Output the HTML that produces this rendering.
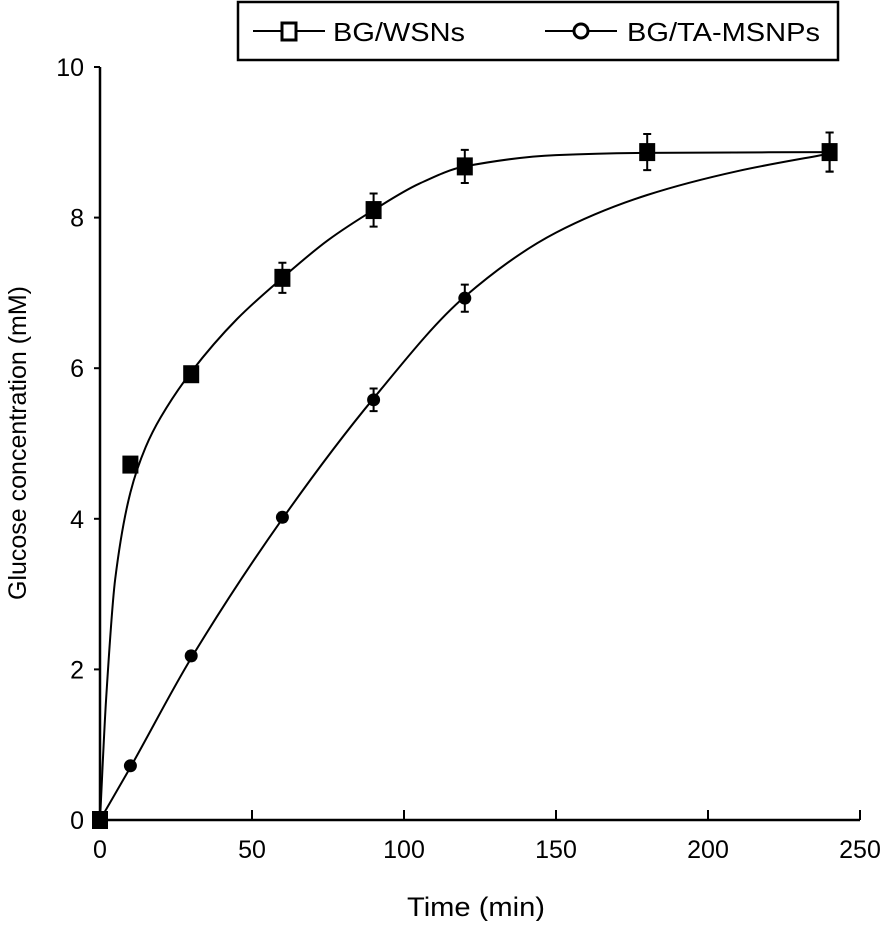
<!DOCTYPE html>
<html><head><meta charset="utf-8"><style>
body{margin:0;background:#fff}
svg text{font-family:"Liberation Sans",Arial,sans-serif;fill:#000}
</style></head><body>
<svg id="chart" width="882" height="921" viewBox="0 0 882 921" xmlns="http://www.w3.org/2000/svg">
<g id="axes"></g>
<g id="series"></g>
<g>
<rect x="238" y="2" width="600" height="58" fill="#fff" stroke="#000" stroke-width="2.5"/>
<g>
<line x1="253" y1="31" x2="325" y2="31" stroke="#000" stroke-width="2"/>
<rect x="282" y="23" width="14" height="17" fill="#fff" stroke="#000" stroke-width="3"/>
<text x="333" y="41" font-size="26" textLength="132" lengthAdjust="spacingAndGlyphs">BG/WSNs</text>
</g>
<g>
<line x1="545" y1="31" x2="617" y2="31" stroke="#000" stroke-width="2"/>
<circle cx="581" cy="31" r="7" fill="#fff" stroke="#000" stroke-width="3"/>
<text x="627" y="41" font-size="26" textLength="193" lengthAdjust="spacingAndGlyphs">BG/TA-MSNPs</text>
</g>
</g>
<text x="476" y="916" font-size="27" text-anchor="middle" textLength="138" lengthAdjust="spacingAndGlyphs">Time (min)</text>
<text transform="translate(26,443) rotate(-90)" font-size="25" text-anchor="middle">Glucose concentration (mM)</text>
</svg>
<script>
const xTicks=[0,50,100,150,200,250];
const yTicks=[0,2,4,6,8,10];
const wsnTimes=[0,10,30,60,90,120,180,240];
const wsnValues=[0,4.72,5.92,7.2,8.1,8.68,8.87,8.87];
const wsnErrors=[0,0.08,0.1,0.2,0.22,0.22,0.24,0.26];
const wsnFitTimes=[0,2,5,10,15,20,30,45,60,75,90,105,120,150,180,240];
const wsnFitValues=[0,1.6,3.2,4.35,4.95,5.35,5.95,6.65,7.2,7.7,8.1,8.45,8.68,8.83,8.86,8.87];
const taTimes=[0,10,30,60,90,120,240];
const taValues=[0,0.72,2.18,4.02,5.58,6.93,8.87];
const taErrors=[0,0.04,0.06,0.06,0.15,0.18,0.26];
const taFitTimes=[0,10,30,60,90,120,150,180,210,240];
const taFitValues=[0,0.7,2.15,4.0,5.6,6.95,7.8,8.3,8.62,8.85];
const NS='http://www.w3.org/2000/svg';
const X0=100,X1=860,Y0=820,Y1=67;
const sx=v=>X0+(v-0)/(250-0)*(X1-X0);
const sy=v=>Y0-(v-0)/(10-0)*(Y0-Y1);
function mk(tag,attrs,parent){const e=document.createElementNS(NS,tag);for(const k in attrs)e.setAttribute(k,attrs[k]);parent.appendChild(e);return e;}
const ax=document.getElementById('axes');
let l=mk('line',{x1:X0-1,y1:Y0,x2:X1,y2:Y0,stroke:'#000','stroke-width':2.5},ax);


l=mk('line',{x1:X0,y1:Y0,x2:X0,y2:Y1,stroke:'#000','stroke-width':2.5},ax);


xTicks.forEach(t=>{
 const tk=mk('line',{x1:sx(t),y1:Y0,x2:sx(t),y2:Y0-10,stroke:'#000','stroke-width':2},ax);
 
 
 const tx=mk('text',{x:sx(t),y:Y0+38,'font-size':25,'text-anchor':'middle'},ax);tx.textContent=t;
 
 
});
yTicks.forEach(t=>{
 const tk=mk('line',{x1:X0-6,y1:sy(t),x2:X0,y2:sy(t),stroke:'#000','stroke-width':2},ax);
 
 
 const tx=mk('text',{x:X0-16,y:sy(t)+9,'font-size':25,'text-anchor':'end'},ax);tx.textContent=t;
 
 
});
function curve(xs,ys){
 const n=xs.length,d=[],m=[];
 for(let i=0;i<n-1;i++)d.push((ys[i+1]-ys[i])/(xs[i+1]-xs[i]));
 m[0]=d[0];m[n-1]=d[n-2];
 for(let i=1;i<n-1;i++)m[i]=(d[i-1]*d[i]<=0)?0:2/(1/d[i-1]+1/d[i]);
 let p='M'+sx(xs[0])+','+sy(ys[0]);
 for(let i=0;i<n-1;i++){const h=xs[i+1]-xs[i];
  p+=' C'+sx(xs[i]+h/3)+','+sy(ys[i]+m[i]*h/3)+' '+sx(xs[i+1]-h/3)+','+sy(ys[i+1]-m[i+1]*h/3)+' '+sx(xs[i+1])+','+sy(ys[i+1]);}
 return p;
}
const sg=document.getElementById('series');
function series(name,fx,fy,xs,ys,es,shape){
 const g=mk('g',{},sg);
 
 
 const p=mk('path',{d:curve(fx,fy),fill:'none',stroke:'#000','stroke-width':2},g);
 
 
 xs.forEach((x,i)=>{
  const cx=sx(x),cy=sy(ys[i]);
  if(es[i]>0){
   const e=mk('path',{d:`M${cx},${sy(ys[i]+es[i])}V${sy(ys[i]-es[i])}M${cx-4},${sy(ys[i]+es[i])}h8M${cx-4},${sy(ys[i]-es[i])}h8`,stroke:'#000','stroke-width':2,fill:'none'},g);
   
   
  }
  let mkr;
  if(shape==='sq') mkr=mk('rect',{x:cx-8,y:cy-9,width:16,height:18,fill:'#000'},g);
  else mkr=mk('circle',{cx:cx,cy:cy,r:6.5,fill:'#000'},g);
  
  
 });
}
series('series-bg-ta-msnps',taFitTimes,taFitValues,taTimes,taValues,taErrors,'ci');
series('series-bg-wsns',wsnFitTimes,wsnFitValues,wsnTimes,wsnValues,wsnErrors,'sq');
</script>
</body></html>
